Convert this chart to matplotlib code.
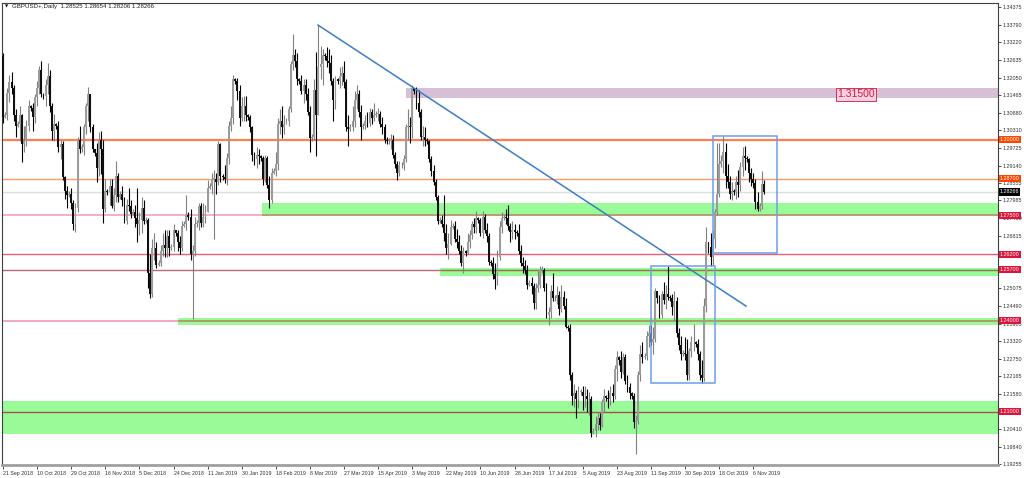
import numpy as np
import matplotlib.pyplot as plt
from matplotlib.patches import Rectangle
import matplotlib.transforms as mtransforms

plt.rcParams['font.family'] = ['Liberation Sans', 'DejaVu Sans']

# GBPUSD+ daily bars, 21 Sep 2018 .. 12 Nov 2019 (Sunday bars included, one row per week)
first_open = 1.3275
closes = [1.3075,
    1.3080, 1.3155, 1.3190, 1.3170, 1.3080, 1.3045,
    1.3050, 1.3080, 1.2985, 1.2995, 1.3045, 1.3110,
    1.3105, 1.3075, 1.3140, 1.3170, 1.3230, 1.3150,
    1.3145, 1.3180, 1.3210, 1.3110, 1.3030, 1.3050,
    1.3045, 1.2975, 1.2985, 1.2875, 1.2830, 1.2815,
    1.2820, 1.2790, 1.2720, 1.2775, 1.3000, 1.2970,
    1.2975, 1.3040, 1.3110, 1.3150, 1.3040, 1.2970,
    1.2955, 1.2905, 1.3000, 1.2970, 1.2770, 1.2830,
    1.2825, 1.2845, 1.2780, 1.2815, 1.2880, 1.2810,
    1.2820, 1.2800, 1.2730, 1.2785, 1.2780, 1.2755,
    1.2760, 1.2740, 1.2720, 1.2735, 1.2775, 1.2730,
    1.2735, 1.2560, 1.2490, 1.2640, 1.2640, 1.2585,
    1.2590, 1.2630, 1.2650, 1.2640, 1.2680, 1.2640,
    1.2645, 1.2700, 1.2690, 1.2660, 1.2640, 1.2715,
    1.2720, 1.2750, 1.2745, 1.2620, 1.2630, 1.2720,
    1.2725, 1.2780, 1.2725, 1.2745, 1.2760, 1.2840,
    1.2845, 1.2870, 1.2870, 1.2860, 1.2985, 1.2880,
    1.2875, 1.2870, 1.2940, 1.3045, 1.3070, 1.3200,
    1.3195, 1.3160, 1.3070, 1.3110, 1.3110, 1.3080,
    1.3075, 1.3040, 1.2950, 1.2935, 1.2950, 1.2945,
    1.2940, 1.2870, 1.2940, 1.2850, 1.2800, 1.2890,
    1.2895, 1.2920, 1.3050, 1.3060, 1.3040, 1.3050,
    1.3060, 1.3100, 1.3250, 1.3280, 1.3260, 1.3200,
    1.3195, 1.3160, 1.3180, 1.3150, 1.3090, 1.3005,
    1.3010, 1.3165, 1.3080, 1.3240, 1.3250, 1.3280,
    1.3275, 1.3260, 1.3255, 1.3195, 1.3130, 1.3200,
    1.3195, 1.3210, 1.3220, 1.3190, 1.3040, 1.3035,
    1.3040, 1.3060, 1.3130, 1.3150, 1.3090, 1.3040,
    1.3045, 1.3060, 1.3055, 1.3090, 1.3070, 1.3080,
    1.3085, 1.3085, 1.3050, 1.3040, 1.3000, 1.2995,
    1.2995, 1.3000, 1.2950, 1.2920, 1.2890, 1.2915,
    1.2915, 1.2935, 1.3040, 1.3045, 1.3040, 1.3170,
    1.3160, 1.3120, 1.3090, 1.3010, 1.3010, 1.3000,
    1.2995, 1.2935, 1.2895, 1.2860, 1.2810, 1.2730,
    1.2735, 1.2720, 1.2690, 1.2640, 1.2655, 1.2710,
    1.2715, 1.2670, 1.2660, 1.2630, 1.2590, 1.2630,
    1.2625, 1.2660, 1.2685, 1.2720, 1.2710, 1.2740,
    1.2735, 1.2690, 1.2745, 1.2700, 1.2680, 1.2595,
    1.2590, 1.2555, 1.2540, 1.2610, 1.2710, 1.2740,
    1.2745, 1.2740, 1.2715, 1.2695, 1.2700, 1.2695,
    1.2690, 1.2630, 1.2590, 1.2580, 1.2570, 1.2520,
    1.2525, 1.2515, 1.2460, 1.2510, 1.2520, 1.2570,
    1.2570, 1.2510, 1.2420, 1.2430, 1.2500, 1.2475,
    1.2475, 1.2485, 1.2440, 1.2480, 1.2450, 1.2380,
    1.2375, 1.2220, 1.2150, 1.2160, 1.2140, 1.2165,
    1.2165, 1.2150, 1.2150, 1.2140, 1.2140, 1.2030,
    1.2035, 1.2060, 1.2080, 1.2055, 1.2130, 1.2150,
    1.2145, 1.2140, 1.2160, 1.2150, 1.2240, 1.2280,
    1.2270, 1.2230, 1.2280, 1.2200, 1.2180, 1.2160,
    1.2150, 1.2065, 1.2070, 1.2220, 1.2290, 1.2280,
    1.2285, 1.2350, 1.2360, 1.2330, 1.2340, 1.2500,
    1.2475, 1.2420, 1.2490, 1.2470, 1.2490, 1.2480,
    1.2475, 1.2445, 1.2465, 1.2360, 1.2320, 1.2290,
    1.2295, 1.2290, 1.2220, 1.2300, 1.2330, 1.2330,
    1.2325, 1.2290, 1.2220, 1.2210, 1.2450, 1.2660,
    1.2645, 1.2610, 1.2670, 1.2760, 1.2820, 1.2920,
    1.2930, 1.2960, 1.2880, 1.2860, 1.2820, 1.2830,
    1.2825, 1.2860, 1.2850, 1.2910, 1.2945, 1.2940,
    1.2935, 1.2890, 1.2870, 1.2855, 1.2795, 1.2770,
    1.2780, 1.28525, 1.28266]

highs = [1.3285,
    1.3090, 1.3170, 1.3215, 1.3225, 1.3180, 1.3100,
    1.3060, 1.3110, 1.3085, 1.3045, 1.3065, 1.3130,
    1.3115, 1.3120, 1.3150, 1.3195, 1.3245, 1.3260,
    1.3155, 1.3200, 1.3255, 1.3230, 1.3120, 1.3085,
    1.3055, 1.3060, 1.3000, 1.2995, 1.2880, 1.2845,
    1.2830, 1.2840, 1.2800, 1.2790, 1.3010, 1.3045,
    1.2985, 1.3050, 1.3120, 1.3175, 1.3150, 1.3050,
    1.2965, 1.2990, 1.3025, 1.3030, 1.3000, 1.2870,
    1.2835, 1.2870, 1.2870, 1.2840, 1.2930, 1.2890,
    1.2830, 1.2845, 1.2810, 1.2805, 1.2840, 1.2800,
    1.2770, 1.2785, 1.2840, 1.2760, 1.2810, 1.2800,
    1.2745, 1.2740, 1.2620, 1.2670, 1.2690, 1.2660,
    1.2600, 1.2650, 1.2690, 1.2700, 1.2700, 1.2700,
    1.2655, 1.2720, 1.2700, 1.2700, 1.2680, 1.2730,
    1.2730, 1.2815, 1.2760, 1.2770, 1.2650, 1.2745,
    1.2735, 1.2790, 1.2790, 1.2790, 1.2785, 1.2865,
    1.2855, 1.2890, 1.2900, 1.2890, 1.2995, 1.2990,
    1.2885, 1.2915, 1.2955, 1.3060, 1.3110, 1.3215,
    1.3205, 1.3205, 1.3180, 1.3140, 1.3145, 1.3145,
    1.3085, 1.3080, 1.3045, 1.2960, 1.2975, 1.2970,
    1.2950, 1.2945, 1.2950, 1.2945, 1.2880, 1.2905,
    1.2905, 1.2960, 1.3070, 1.3100, 1.3110, 1.3080,
    1.3070, 1.3110, 1.3260, 1.3350, 1.3300, 1.3285,
    1.3205, 1.3215, 1.3200, 1.3200, 1.3170, 1.3110,
    1.3020, 1.3200, 1.3290, 1.3380, 1.3310, 1.3300,
    1.3285, 1.3305, 1.3300, 1.3280, 1.3205, 1.3210,
    1.3205, 1.3240, 1.3245, 1.3260, 1.3200, 1.3080,
    1.3050, 1.3110, 1.3160, 1.3180, 1.3165, 1.3115,
    1.3055, 1.3080, 1.3090, 1.3105, 1.3100, 1.3120,
    1.3095, 1.3105, 1.3095, 1.3075, 1.3050, 1.3010,
    1.3005, 1.3020, 1.3015, 1.2960, 1.2930, 1.2930,
    1.2925, 1.2950, 1.3050, 1.3100, 1.3075, 1.3180,
    1.3170, 1.3175, 1.3165, 1.3100, 1.3045, 1.3040,
    1.3005, 1.3000, 1.2945, 1.2915, 1.2870, 1.2815,
    1.2745, 1.2750, 1.2815, 1.2720, 1.2690, 1.2735,
    1.2725, 1.2730, 1.2705, 1.2685, 1.2650, 1.2645,
    1.2635, 1.2690, 1.2700, 1.2730, 1.2740, 1.2765,
    1.2745, 1.2740, 1.2765, 1.2755, 1.2725, 1.2690,
    1.2600, 1.2610, 1.2590, 1.2635, 1.2730, 1.2760,
    1.2755, 1.2770, 1.2785, 1.2725, 1.2730, 1.2720,
    1.2700, 1.2720, 1.2650, 1.2610, 1.2600, 1.2585,
    1.2535, 1.2545, 1.2525, 1.2525, 1.2565, 1.2580,
    1.2580, 1.2575, 1.2525, 1.2445, 1.2520, 1.2560,
    1.2485, 1.2515, 1.2500, 1.2520, 1.2500, 1.2475,
    1.2385, 1.2390, 1.2230, 1.2190, 1.2170, 1.2185,
    1.2175, 1.2185, 1.2185, 1.2175, 1.2165, 1.2150,
    1.2045, 1.2085, 1.2100, 1.2095, 1.2140, 1.2175,
    1.2155, 1.2170, 1.2185, 1.2190, 1.2255, 1.2300,
    1.2285, 1.2300, 1.2295, 1.2290, 1.2220, 1.2195,
    1.2165, 1.2160, 1.2090, 1.2235, 1.2320, 1.2330,
    1.2295, 1.2365, 1.2385, 1.2385, 1.2380, 1.2510,
    1.2490, 1.2485, 1.2500, 1.2530, 1.2520, 1.2580,
    1.2485, 1.2490, 1.2500, 1.2480, 1.2375, 1.2350,
    1.2305, 1.2345, 1.2340, 1.2310, 1.2350, 1.2390,
    1.2335, 1.2340, 1.2300, 1.2270, 1.2475, 1.2710,
    1.2660, 1.2690, 1.2700, 1.2770, 1.2990, 1.2990,
    1.2950, 1.3013, 1.2990, 1.2920, 1.2880, 1.2860,
    1.2835, 1.2880, 1.2900, 1.2925, 1.2975, 1.2980,
    1.2945, 1.2940, 1.2905, 1.2890, 1.2870, 1.2825,
    1.2790, 1.2895, 1.28654]

lows = [1.3055,
    1.3070, 1.3065, 1.3125, 1.3150, 1.3060, 1.3010,
    1.3040, 1.2995, 1.2925, 1.2960, 1.2980, 1.3030,
    1.3095, 1.3030, 1.3055, 1.3110, 1.3150, 1.3140,
    1.3135, 1.3110, 1.3150, 1.3090, 1.3000, 1.2995,
    1.3035, 1.2960, 1.2935, 1.2865, 1.2805, 1.2775,
    1.2810, 1.2770, 1.2700, 1.2695, 1.2760, 1.2955,
    1.2960, 1.2950, 1.3020, 1.3060, 1.3025, 1.2960,
    1.2945, 1.2860, 1.2880, 1.2885, 1.2725, 1.2760,
    1.2815, 1.2785, 1.2775, 1.2765, 1.2795, 1.2795,
    1.2805, 1.2780, 1.2725, 1.2720, 1.2765, 1.2740,
    1.2750, 1.2710, 1.2660, 1.2685, 1.2690, 1.2720,
    1.2725, 1.2510, 1.2475, 1.2480, 1.2600, 1.2575,
    1.2580, 1.2580, 1.2615, 1.2610, 1.2610, 1.2615,
    1.2635, 1.2630, 1.2680, 1.2630, 1.2620, 1.2630,
    1.2710, 1.2700, 1.2735, 1.2600, 1.2405, 1.2615,
    1.2710, 1.2700, 1.2710, 1.2710, 1.2725, 1.2760,
    1.2835, 1.2820, 1.2670, 1.2820, 1.2850, 1.2860,
    1.2865, 1.2855, 1.2850, 1.2920, 1.3030, 1.3050,
    1.3185, 1.3130, 1.3045, 1.3060, 1.3060, 1.3060,
    1.3065, 1.3025, 1.2930, 1.2915, 1.2905, 1.2920,
    1.2930, 1.2850, 1.2860, 1.2840, 1.2775, 1.2790,
    1.2885, 1.2880, 1.2900, 1.3020, 1.3005, 1.3020,
    1.3050, 1.3045, 1.3090, 1.3230, 1.3240, 1.3180,
    1.3185, 1.3150, 1.3120, 1.3130, 1.3080, 1.2960,
    1.2995, 1.3000, 1.2945, 1.3080, 1.3200, 1.3180,
    1.3265, 1.3240, 1.3220, 1.3180, 1.3060, 1.3100,
    1.3185, 1.3170, 1.3180, 1.3170, 1.3030, 1.2980,
    1.3030, 1.3030, 1.3040, 1.3100, 1.3075, 1.3000,
    1.3035, 1.3035, 1.3040, 1.3045, 1.3050, 1.3060,
    1.3075, 1.3060, 1.3040, 1.3020, 1.2990, 1.2985,
    1.2985, 1.2970, 1.2940, 1.2905, 1.2865, 1.2880,
    1.2905, 1.2900, 1.2925, 1.3000, 1.2990, 1.3005,
    1.3150, 1.3100, 1.3075, 1.3000, 1.2980, 1.2980,
    1.2985, 1.2925, 1.2880, 1.2850, 1.2800, 1.2720,
    1.2725, 1.2710, 1.2665, 1.2620, 1.2605, 1.2650,
    1.2705, 1.2660, 1.2640, 1.2620, 1.2580, 1.2560,
    1.2615, 1.2620, 1.2640, 1.2670, 1.2690, 1.2690,
    1.2725, 1.2680, 1.2675, 1.2690, 1.2660, 1.2585,
    1.2580, 1.2540, 1.2505, 1.2520, 1.2600, 1.2690,
    1.2735, 1.2720, 1.2700, 1.2660, 1.2670, 1.2670,
    1.2680, 1.2620, 1.2580, 1.2560, 1.2555, 1.2505,
    1.2515, 1.2490, 1.2440, 1.2440, 1.2495, 1.2510,
    1.2560, 1.2500, 1.2410, 1.2385, 1.2410, 1.2465,
    1.2465, 1.2455, 1.2420, 1.2430, 1.2440, 1.2375,
    1.2365, 1.2205, 1.2120, 1.2115, 1.2080, 1.2110,
    1.2155, 1.2105, 1.2115, 1.2100, 1.2090, 1.2015,
    1.2025, 1.2015, 1.2040, 1.2040, 1.2050, 1.2100,
    1.2135, 1.2110, 1.2120, 1.2130, 1.2140, 1.2200,
    1.2255, 1.2210, 1.2225, 1.2190, 1.2165, 1.2140,
    1.2140, 1.2045, 1.1958, 1.2060, 1.2200, 1.2260,
    1.2275, 1.2270, 1.2315, 1.2320, 1.2290, 1.2330,
    1.2460, 1.2410, 1.2410, 1.2455, 1.2440, 1.2470,
    1.2465, 1.2420, 1.2400, 1.2345, 1.2305, 1.2270,
    1.2285, 1.2270, 1.2205, 1.2205, 1.2280, 1.2300,
    1.2315, 1.2270, 1.2205, 1.2195, 1.2200, 1.2430,
    1.2625, 1.2580, 1.2585, 1.2640, 1.2750, 1.2810,
    1.2910, 1.2890, 1.2840, 1.2840, 1.2805, 1.2800,
    1.2815, 1.2805, 1.2810, 1.2830, 1.2880, 1.2900,
    1.2925, 1.2860, 1.2845, 1.2840, 1.2770, 1.2765,
    1.2765, 1.2770, 1.28206]

date_labels = ["21 Sep 2018", "10 Oct 2018", "29 Oct 2018", "16 Nov 2018", "5 Dec 2018",
               "24 Dec 2018", "11 Jan 2019", "30 Jan 2019", "18 Feb 2019", "8 Mar 2019",
               "27 Mar 2019", "15 Apr 2019", "3 May 2019", "22 May 2019", "10 Jun 2019",
               "28 Jun 2019", "17 Jul 2019", "5 Aug 2019", "23 Aug 2019", "11 Sep 2019",
               "30 Sep 2019", "18 Oct 2019", "6 Nov 2019"]
date_bars = list(range(0, 353, 16))

# scale values that stay visible (the rest sit under the level tags)
price_ticks = [1.34375, 1.33790, 1.33220, 1.32635, 1.32050, 1.31465, 1.30880, 1.30310,
               1.29725, 1.29140, 1.28555, 1.27985, 1.27400, 1.26815,
               1.25075, 1.24490, 1.23905, 1.23320, 1.22750, 1.22165, 1.21580,
               1.20410, 1.19840, 1.19255]

# horizontal levels drawn on the chart
level_prices = [1.30000, 1.28700, 1.27500, 1.26200, 1.25700, 1.24000, 1.21000]
current_price = 1.28266

# green support / resistance zones: low, high, first bar
zone_low = [1.2750, 1.2549, 1.2386, 1.2025]
zone_high = [1.2790, 1.2575, 1.2410, 1.2135]
zone_start = [121.3, 205.0, 82.0, -1.0]

# purple target zone
target_low, target_high, target_start = 1.3137, 1.3170, 189.0

# trend line (bar, price) and the two boxes (bar0, bar1, price0, price1)
trend_bars = [147.8, 348.6]
trend_prices = [1.3379, 1.2449]
box_bar0 = [304.0, 333.0]
box_bar1 = [334.2, 363.3]
box_p0 = [1.2193, 1.2624]
box_p1 = [1.2582, 1.3012]

c = np.array(closes)
o = np.array([first_open] + closes[:-1])
h = np.maximum(np.array(highs), np.maximum(o, c))
l = np.minimum(np.array(lows), np.minimum(o, c))
n = len(c)
idx = np.arange(n)

fig = plt.figure(figsize=(10.24, 4.78), dpi=100)
ax = fig.add_axes([1.5 / 1024, 13 / 478, 996 / 1024, 462.5 / 478])
X0, X1 = -0.7, 466.6
ax.set_xlim(X0, X1)
ax.set_ylim(1.1923, 1.34537)

# zones
for lo_, hi_, st in zip(zone_low, zone_high, zone_start):
    ax.add_patch(Rectangle((st, lo_), X1 - st + 5, hi_ - lo_, facecolor="#98FB98",
                           edgecolor="none", zorder=1.2))
ax.add_patch(Rectangle((target_start, target_low), X1 - target_start + 5, target_high - target_low,
                       facecolor="#D8BFD8", edgecolor="none", zorder=1.2))

# level lines (colour outside / inside a green zone)
line_col = ["#FF7F50", "#FF9966", "#F4AFC0", "#E8607A", "#B86A78", "#F0A8BC", "#A0524C"]
line_in = [None, None, "#B4A06E", None, "#9C6A50", "#B09C6C", "#A0524C"]
line_w = [1.6, 1.0, 1.4, 1.0, 1.0, 1.4, 1.0]
line_zone = [None, None, 0, None, 1, 2, 3]
for p, col, cin, lw, zi in zip(level_prices, line_col, line_in, line_w, line_zone):
    if zi is None:
        ax.plot([X0, X1], [p, p], color=col, lw=lw, zorder=1.5, solid_capstyle="butt")
    else:
        st = zone_start[zi]
        ax.plot([X0, max(st, X0)], [p, p], color=col, lw=lw, zorder=1.5, solid_capstyle="butt")
        ax.plot([max(st, X0), X1], [p, p], color=cin, lw=lw, zorder=1.5, solid_capstyle="butt")
ax.plot([X0, X1], [current_price, current_price], color="#DCDCDC", lw=1.0, zorder=1.4)

# candles
up = c >= o
body_lo = np.minimum(o, c)
body_h = np.maximum(np.abs(c - o), 0.00015)
ax.vlines(idx[up], l[up], h[up], color="#808080", lw=0.8, zorder=3)
ax.vlines(idx[~up], l[~up], h[~up], color="#000000", lw=0.8, zorder=3)
ax.bar(idx[up], body_h[up], bottom=body_lo[up], width=0.9, color="#9C9C9C", lw=0, zorder=3.1)
ax.bar(idx[~up], body_h[~up], bottom=body_lo[~up], width=0.9, color="#101010", lw=0, zorder=3.1)

# trend line and boxes
ax.plot(trend_bars, trend_prices, color="#3C7DC4", lw=1.1, zorder=4)
for b0, b1, p0, p1 in zip(box_bar0, box_bar1, box_p0, box_p1):
    ax.add_patch(Rectangle((b0, p0), b1 - b0, p1 - p0, fill=False, edgecolor="#6D9EEB",
                           lw=1.1, zorder=4))

ax.text(400.2, 1.3150, "1.31500", fontsize=7.5, color="#DC143C", ha="center", va="center",
        zorder=5, bbox=dict(boxstyle="square,pad=0.12", fc="#F2D2E4", ec="#DC143C", lw=0.6))

# axes styling
for s in ["left", "top", "right"]:
    ax.spines[s].set_color("#404040")
    ax.spines[s].set_linewidth(0.8)
ax.spines["bottom"].set_color("#A0A0A0")
ax.spines["bottom"].set_linewidth(2)

ax.yaxis.tick_right()
ax.set_yticks(price_ticks)
ax.set_yticklabels(["%.5f" % t for t in price_ticks])
ax.tick_params(axis="y", length=2.5, width=0.6, colors="#303030", labelsize=3.9, pad=1.5)
ax.set_xticks(date_bars)
ax.set_xticklabels(date_labels, ha="left")
ax.tick_params(axis="x", length=3, width=0.6, colors="#303030", labelsize=3.8, pad=1.5)

# price labels on the right scale
trans = mtransforms.blended_transform_factory(ax.transAxes, ax.transData)
tag_col = ["#FF4500", "#FF4500", "#DC143C", "#DC143C", "#DC143C", "#DC143C", "#DC143C"]
for p, col in zip(level_prices, tag_col):
    ax.text(1.0022, p, "%.5f" % p, transform=trans, fontsize=3.9, color="white", ha="left",
            va="center", clip_on=False, zorder=10,
            bbox=dict(boxstyle="square,pad=0.2", fc=col, ec="none"))
ax.text(1.0022, current_price, "%.5f" % current_price, transform=trans, fontsize=3.9,
        color="white", ha="left", va="center", clip_on=False, zorder=10,
        bbox=dict(boxstyle="square,pad=0.2", fc="black", ec="none"))

fig.text(5 / 1024, 1 - 6.5 / 478, "\u25bc", fontsize=3, va="center", color="black",
         family="DejaVu Sans")
fig.text(12 / 1024, 1 - 6.5 / 478, "GBPUSD+,Daily  1.28525 1.28654 1.28206 1.28266",
         fontsize=4.4, va="center", color="#202020")

fig.savefig("out.png", dpi=100)
